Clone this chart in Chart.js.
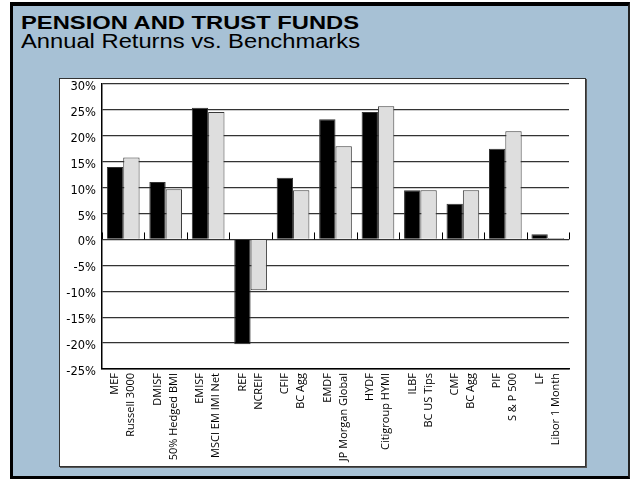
<!DOCTYPE html>
<html>
<head>
<meta charset="utf-8">
<script src="https://cdn.jsdelivr.net/npm/chart.js@4/dist/chart.umd.min.js"></script>
<style>
  body { margin: 0; background: #fff; width: 630px; height: 479px; overflow: hidden; position: relative; }
  #frame {
    position: absolute; left: 10px; top: 2px; width: 620px; height: 477px; box-sizing: border-box;
    background: #a7c1d5;
    border-left: 3px solid #000; border-top: 4px solid #000; border-right: 2px solid #222; border-bottom: 3px solid #000;
  }
  .ttl { position: absolute; left: 21px; white-space: nowrap; font-family: "Liberation Sans", Arial, sans-serif; color: #000; transform-origin: 0 0; }
  #title { top: 13px; font-size: 19px; line-height: 19px; font-weight: bold; }
  #subtitle { top: 31px; font-size: 20px; line-height: 20px; }
  #panel {
    position: absolute; left: 59px; top: 78px; width: 527px; height: 389px; box-sizing: border-box;
    background: #fff; border: 1px solid #333; box-shadow: 1px 1px 0 #555;
  }
  #chart { position: absolute; left: 0; top: 0; }
</style>
</head>
<body>
<div id="frame"></div>
<div class="ttl" id="title">PENSION AND TRUST FUNDS</div>
<div class="ttl" id="subtitle">Annual Returns vs. Benchmarks</div>
<div id="panel"><canvas id="chart" width="525" height="387"></canvas></div>
<script>
// fund / benchmark pairs
const funds = ['MEF', 'DMISF', 'EMISF', 'REF', 'CFIF', 'EMDF', 'HYDF', 'ILBF', 'CMF', 'PIF', 'LF'];
const benchmarks = ['Russell 3000', '50% Hedged BMI', 'MSCI EM IMI Net', 'NCREIF', 'BC Agg', 'JP Morgan Global',
    'Citigroup HYMI', 'BC US Tips', 'BC Agg', 'S & P 500', 'Libor 1 Month'];
const fundReturns = [14.0, 11.1, 25.4, -20.2, 11.9, 23.2, 24.6, 9.5, 6.9, 17.5, 1.0];
const benchReturns = [15.8, 9.7, 24.6, -9.8, 9.5, 18.0, 25.7, 9.5, 9.5, 20.9, 0.3];
const yMin = -25, yMax = 30, yStep = 5;

// stretch the headings to the width they have in the original
[['title', 338], ['subtitle', 339]].forEach(([id, w]) => {
    const el = document.getElementById(id);
    el.style.transform = 'scaleX(' + (w / el.getBoundingClientRect().width) + ')';
});

// small marks between the groups, standing on the 0% line
const groupTicks = {
    id: 'groupTicks',
    afterDatasetsDraw(chart) {
        const ctx = chart.ctx, x = chart.scales.x, y = chart.scales.y;
        const y0 = y.getPixelForValue(0);
        ctx.save();
        ctx.strokeStyle = '#000';
        ctx.lineWidth = 1;
        for (let i = 0; i <= funds.length; i++) {
            const px = Math.round(x.getPixelForValue(i - 0.5)) + 0.5;
            ctx.beginPath();
            ctx.moveTo(px, y0);
            ctx.lineTo(px, y0 - 7);
            ctx.stroke();
        }
        ctx.restore();
    }
};

new Chart(document.getElementById('chart'), {
    type: 'bar',
    data: {
        labels: funds.map((f, i) => [f, benchmarks[i]]),
        datasets: [{
            label: 'Fund',
            data: fundReturns,
            backgroundColor: '#000',
            borderColor: '#333',
            borderWidth: 1
        }, {
            label: 'Benchmark',
            data: benchReturns,
            backgroundColor: '#dedede',
            borderColor: '#3a3a3a',
            borderWidth: 1
        }]
    },
    options: {
        responsive: false,
        animation: false,
        events: [],
        layout: { padding: { top: 5, right: 16, left: 0, bottom: 0 } },
        datasets: { bar: { categoryPercentage: 0.77, barPercentage: 1 } },
        plugins: { legend: { display: false }, tooltip: { enabled: false } },
        scales: {
            x: {
                grid: { display: false, drawTicks: false },
                border: { display: true, color: '#000', width: 1.5 },
                ticks: {
                    autoSkip: false, minRotation: 90, maxRotation: 90,
                    padding: 4, labelOffset: -8, color: '#000',
                    font: { family: '"Open Sans", sans-serif', size: 11, lineHeight: 16 / 11 }
                },
                afterFit(s) { s.height = 97; s.paddingLeft = 0; s.paddingRight = 0; }
            },
            y: {
                min: yMin, max: yMax,
                grid: { color: '#333', lineWidth: 1.2, drawTicks: false },
                border: { display: true, color: '#000', width: 1.5 },
                ticks: {
                    stepSize: yStep, padding: 6, labelOffset: 3, color: '#000',
                    font: { family: '"DejaVu Sans", sans-serif', size: 11.5 },
                    callback: v => v + '%'
                },
                afterFit(s) { s.width = 42; s.paddingTop = 0; s.paddingBottom = 0; }
            }
        }
    },
    plugins: [groupTicks]
});
</script>
</body>
</html>
